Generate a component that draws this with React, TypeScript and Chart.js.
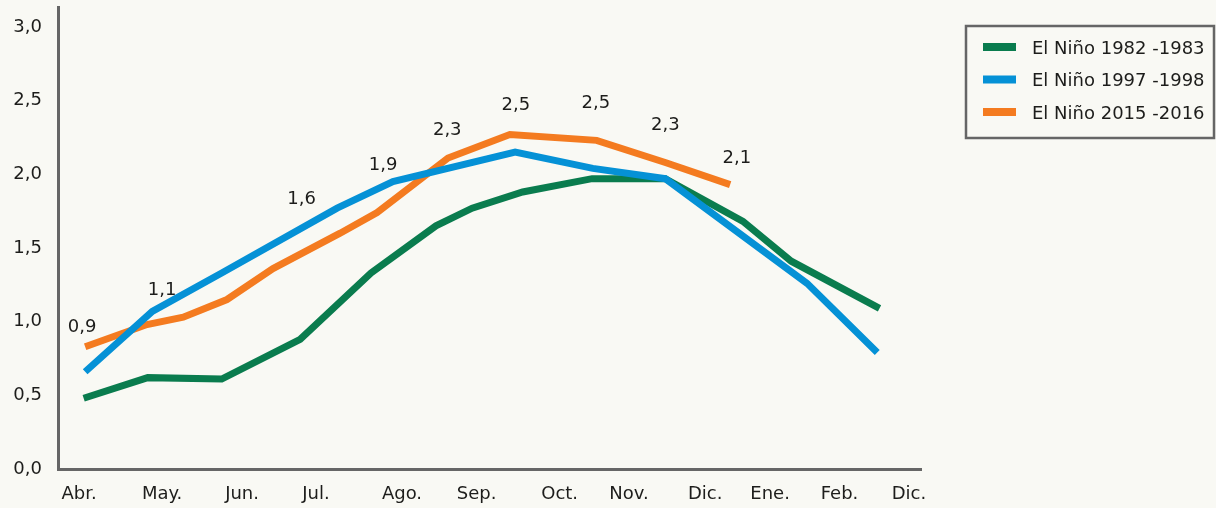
import React, { useEffect, useRef } from 'react';
import { Chart, registerables } from 'chart.js';

Chart.register(...registerables);

// Axis labels (positions in month units along the x axis)
const X_LABELS = ['Abr.', 'May.', 'Jun.', 'Jul.', 'Ago.', 'Sep.', 'Oct.', 'Nov.', 'Dic.', 'Ene.', 'Feb.', 'Dic.'];
const X_LABEL_POS = [0.28, 1.38, 2.44, 3.42, 4.56, 5.55, 6.65, 7.57, 8.58, 9.44, 10.36, 11.28];
const X_MAX = 11.44;
const Y_TICKS = [0, 0.5, 1, 1.5, 2, 2.5, 3];
const Y_MAX = 3.135;

const SERIES_NAMES = ['El Niño 1982 -1983', 'El Niño 1997 -1998', 'El Niño 2015 -2016'];
const SERIES_COLORS = ['#0a7c4e', '#0591d6', '#f47b20'];

const NINO_1982_X = [0.34, 1.19, 2.17, 3.21, 4.15, 5.01, 5.49, 6.16, 7.08, 8.05, 9.08, 9.72, 10.89];
const NINO_1982_Y = [0.48, 0.62, 0.61, 0.88, 1.33, 1.65, 1.77, 1.88, 1.97, 1.97, 1.68, 1.41, 1.09];

const NINO_1997_X = [0.36, 1.25, 2.17, 3.7, 4.44, 6.06, 7.09, 8.05, 9.93, 10.86];
const NINO_1997_Y = [0.66, 1.07, 1.33, 1.77, 1.95, 2.15, 2.04, 1.97, 1.26, 0.79];

const NINO_2015_X = [0.36, 1.18, 1.66, 2.24, 2.85, 3.74, 4.23, 5.17, 5.99, 7.14, 8.05, 8.91];
const NINO_2015_Y = [0.83, 0.98, 1.03, 1.15, 1.36, 1.6, 1.74, 2.11, 2.27, 2.23, 2.08, 1.93];

// Value annotations written above the curves
const ANNOT_TEXT = ['0,9', '1,1', '1,6', '1,9', '2,3', '2,5', '2,5', '2,3', '2,1'];
const ANNOT_X = [0.32, 1.38, 3.23, 4.31, 5.16, 6.07, 7.13, 8.05, 9.0];
const ANNOT_Y = [0.96, 1.21, 1.83, 2.06, 2.3, 2.47, 2.48, 2.33, 2.11];

const FONT = '"DejaVu Sans", Roboto, sans-serif';
const TEXT_COLOR = '#1d1d1b';
const AXIS_COLOR = '#666666';
const BG = '#f9f9f4';

const toPoints = (xs: number[], ys: number[]) => xs.map((x, i) => ({ x, y: ys[i] }));

const annotationPlugin = {
  id: 'valueAnnotations',
  afterDatasetsDraw(chart: any) {
    const { ctx, scales } = chart;
    ctx.save();
    ctx.font = `18px ${FONT}`;
    ctx.fillStyle = TEXT_COLOR;
    ctx.textAlign = 'center';
    ctx.textBaseline = 'middle';
    ANNOT_TEXT.forEach((t, i) => {
      ctx.fillText(t, scales.x.getPixelForValue(ANNOT_X[i]), scales.y.getPixelForValue(ANNOT_Y[i]));
    });
    ctx.restore();
  },
};

const boxLegendPlugin = {
  id: 'boxLegend',
  afterDraw(chart: any) {
    const { ctx } = chart;
    const left = 966;
    const top = 26;
    const w = 248;
    const h = 112;
    ctx.save();
    ctx.strokeStyle = AXIS_COLOR;
    ctx.lineWidth = 2.5;
    ctx.strokeRect(left, top, w, h);
    ctx.font = `18px ${FONT}`;
    ctx.textBaseline = 'middle';
    ctx.textAlign = 'left';
    chart.data.datasets.forEach((ds: any, i: number) => {
      const y = 47 + i * 32.5;
      ctx.strokeStyle = ds.borderColor;
      ctx.lineWidth = 8;
      ctx.lineCap = 'butt';
      ctx.beginPath();
      ctx.moveTo(983, y);
      ctx.lineTo(1016, y);
      ctx.stroke();
      ctx.fillStyle = TEXT_COLOR;
      ctx.fillText(ds.label, 1032, y + 2);
    });
    ctx.restore();
  },
};

export default function App() {
  const ref = useRef<HTMLCanvasElement | null>(null);

  useEffect(() => {
    if (!ref.current) return;
    const datasets = [
      { label: SERIES_NAMES[0], data: toPoints(NINO_1982_X, NINO_1982_Y), order: 2 },
      { label: SERIES_NAMES[1], data: toPoints(NINO_1997_X, NINO_1997_Y), order: 0 },
      { label: SERIES_NAMES[2], data: toPoints(NINO_2015_X, NINO_2015_Y), order: 1 },
    ].map((d, i) => ({
      ...d,
      borderColor: SERIES_COLORS[i],
      backgroundColor: SERIES_COLORS[i],
      borderWidth: 7,
      pointRadius: 0,
      tension: 0,
      fill: false,
      borderCapStyle: 'butt' as const,
    }));

    const chart = new Chart(ref.current, {
      type: 'line',
      data: { datasets },
      options: {
        animation: false,
        responsive: false,
        maintainAspectRatio: false,
        layout: { padding: { left: 0, top: 7, right: 295, bottom: 0 } },
        plugins: { legend: { display: false }, tooltip: { enabled: false } },
        scales: {
          x: {
            type: 'linear',
            min: 0,
            max: X_MAX,
            grid: { display: false, drawTicks: false },
            border: { color: AXIS_COLOR, width: 3 },
            afterBuildTicks: (scale: any) => {
              scale.ticks = X_LABEL_POS.map((v) => ({ value: v }));
            },
            afterFit: (scale: any) => {
              scale.height = 39;
              scale.paddingLeft = 0;
              scale.paddingRight = 0;
            },
            ticks: {
              autoSkip: false,
              maxRotation: 0,
              padding: 15,
              color: TEXT_COLOR,
              font: { family: FONT, size: 18 },
              callback: (_v: any, i: number) => X_LABELS[i],
            },
          },
          y: {
            type: 'linear',
            min: 0,
            max: Y_MAX,
            grid: { display: false, drawTicks: false },
            border: { color: AXIS_COLOR, width: 3 },
            afterBuildTicks: (scale: any) => {
              scale.ticks = Y_TICKS.map((v) => ({ value: v }));
            },
            afterFit: (scale: any) => {
              scale.width = 58;
              scale.paddingTop = 0;
              scale.paddingBottom = 0;
            },
            ticks: {
              padding: 16,
              color: TEXT_COLOR,
              font: { family: FONT, size: 18 },
              callback: (v: any) => Number(v).toFixed(1).replace('.', ','),
            },
          },
        },
      },
      plugins: [annotationPlugin, boxLegendPlugin],
    });
    return () => chart.destroy();
  }, []);

  return (
    <div style={{ position: 'fixed', left: 0, top: 0, width: 1216, height: 508, background: BG }}>
      <canvas ref={ref} width={1216} height={508} style={{ display: 'block', width: 1216, height: 508 }} />
    </div>
  );
}
